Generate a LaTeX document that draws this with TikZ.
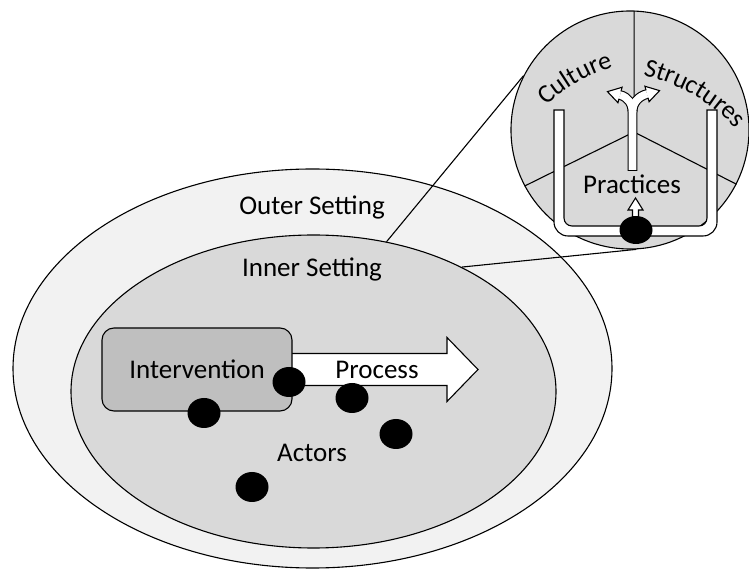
\documentclass[tikz,border=0pt]{standalone}
\usepackage{fontspec}
\setmainfont{Carlito}
\usetikzlibrary{shapes.geometric,decorations.text}

\definecolor{outerfill}{HTML}{F2F2F2}
\definecolor{innerfill}{HTML}{D9D9D9}
\definecolor{boxfill}{HTML}{BFBFBF}

\begin{document}
\begin{tikzpicture}[x=1pt, y=1pt, line width=1.1pt,
  setting/.style={ellipse, draw, inner sep=0pt},
  label/.style={font=\fontsize{27}{32}\selectfont, anchor=base, inner sep=0pt},
  actor/.style={ellipse, fill=black, minimum width=33pt, minimum height=30pt, inner sep=0pt},
  whiteshape/.style={draw=black, fill=white}]

\useasboundingbox (0,0) rectangle (749,570);

\node [setting, fill=outerfill, minimum width=599pt, minimum height=399pt] (outer) at (312.5,201.5) {};
\node [setting, fill=innerfill, minimum width=485pt, minimum height=313pt] (inner) at (313.5,178.5) {};

\node [label] (outerlabel) at (312,355) {Outer Setting};
\node [label] (innerlabel) at (312,293) {Inner Setting};

\draw [whiteshape] (280,216.5) -- (447,216.5) -- (447,232.5) -- (478,200.5) -- (447,168.5) -- (447,184.5) -- (280,184.5);
\node [draw, fill=boxfill, rounded corners=12pt, minimum width=190pt, minimum height=83pt, inner sep=0pt,
       font=\fontsize{27}{32}\selectfont] (intervention) at (197,200.5) {Intervention};
\node [label] (process) at (377,191) {Process};
\node [label] (actors) at (312,108) {Actors};

\foreach \x/\y [count=\i] in {289/188, 204/157, 352/172, 396/136, 252/83}
  \node [actor] (actor\i) at (\x,\y) {};

% zoomed view
\node [circle, draw, fill=innerfill, minimum size=238pt, inner sep=0pt] (lens) at (630,440) {};
\draw (inner.64) -- (lens.153.6);
\draw (inner.40.6) -- (lens.-87);

\coordinate (hub) at (634,438);
\draw (hub) -- (lens.88) (hub) -- (lens.208.7) (hub) -- (lens.-27.4);

\draw [whiteshape] (554,460) -- (554,348) arc[start angle=180, end angle=270, radius=14] -- (703,334)
  arc[start angle=270, end angle=360, radius=14] -- (717,460) -- (707,460) -- (707,352)
  arc[start angle=0, end angle=-90, radius=8] -- (572,344)
  arc[start angle=270, end angle=180, radius=8] -- (564,460) -- cycle;

\draw [line width=9.8pt] (632.5,399) -- (632.5,458) to[out=90,in=-15] (620,475);
\draw [line width=9.8pt] (632.5,458) to[out=90,in=195] (647,476);
\draw [white, line width=7.6pt] (632.5,400) -- (632.5,458) to[out=90,in=-15] (620,475);
\draw [white, line width=7.6pt] (632.5,458) to[out=90,in=195] (647,476);
\foreach \bx/\by/\ang in {620/475/165, 647/476/15}
  \draw [whiteshape, shift={(\bx,\by)}, rotate=\ang] (0,3.8) -- (0,8) -- (13,0) -- (0,-8) -- (0,-3.8);

\node [label] (practices) at (632,376) {Practices};
\draw [whiteshape] (632.5,350) -- (632.5,360) -- (628,360) -- (635.5,372) -- (643,360) -- (638.5,360) -- (638.5,350);
\node [actor, minimum height=28pt] (core) at (636,340) {};

\path [decorate, decoration={text along path, text align=center,
  text={|\fontsize{26}{30}\selectfont|Culture}}]
  (665,336) ++(140:175) arc[start angle=140, end angle=100, radius=175];
\path [decorate, decoration={text along path, text align=center,
  text={|\fontsize{26}{30}\selectfont|Structures}}]
  (602,316.5) ++(95:183) arc[start angle=95, end angle=25, radius=183];

\end{tikzpicture}
\end{document}
